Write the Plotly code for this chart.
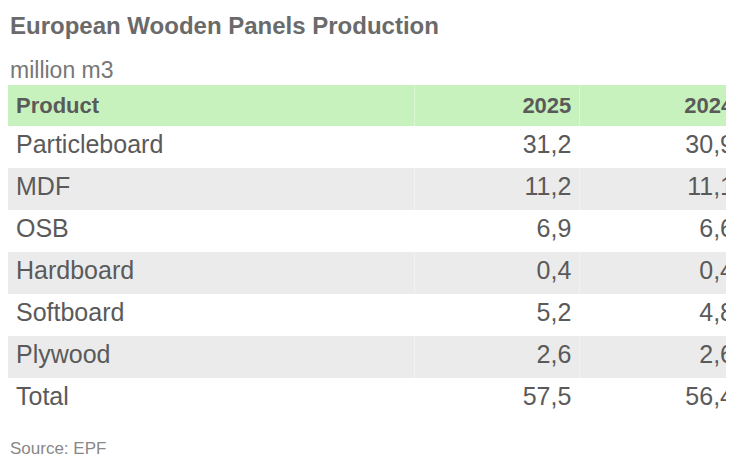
import plotly.graph_objects as go

products = ["Particleboard", "MDF", "OSB", "Hardboard", "Softboard", "Plywood", "Total"]
v2025 = ["31,2", "11,2", "6,9", "0,4", "5,2", "2,6", "57,5"]
v2024 = ["30,9", "11,1", "6,6", "0,4", "4,8", "2,6", "56,4"]
headers = ["Product", "2025", "2024"]

W, H = 734, 458
fills = ["#ffffff" if i % 2 == 0 else "#ebebeb" for i in range(len(products))]
txt = "#5a5a5a"

fig = go.Figure(go.Table(
    columnwidth=[400, 162, 160],
    domain=dict(x=[0, 1], y=[1 - 419 / H, 1 - 77 / H]),
    header=dict(values=[f"<b>{h}</b>" for h in headers],
                fill_color="#c8f2bd", line=dict(width=0),
                align=["left", "right", "right"], height=36,
                font=dict(family="Liberation Sans", size=22, color=txt)),
    cells=dict(values=[products, v2025, v2024],
               fill_color=[fills] * 3, line=dict(width=0),
               align=["left", "right", "right"], height=42,
               font=dict(family="Liberation Sans", size=25, color=txt)),
))
for text, yy, size, col in [("<b>European Wooden Panels Production</b>", 18, 24, "#6a6a6a"),
                            ("million m3", 62, 23, "#777777"),
                            ("Source: EPF", 440, 17, "#888888")]:
    fig.add_annotation(x=0, y=1 - yy / H, xref="paper", yref="paper",
                       xanchor="left", yanchor="middle", text=text, showarrow=False,
                       font=dict(family="Liberation Sans", size=size, color=col))
fig.update_layout(width=W, height=H, margin=dict(l=0, r=0, t=0, b=0),
                  paper_bgcolor="white")
fig.write_html("out.html")
